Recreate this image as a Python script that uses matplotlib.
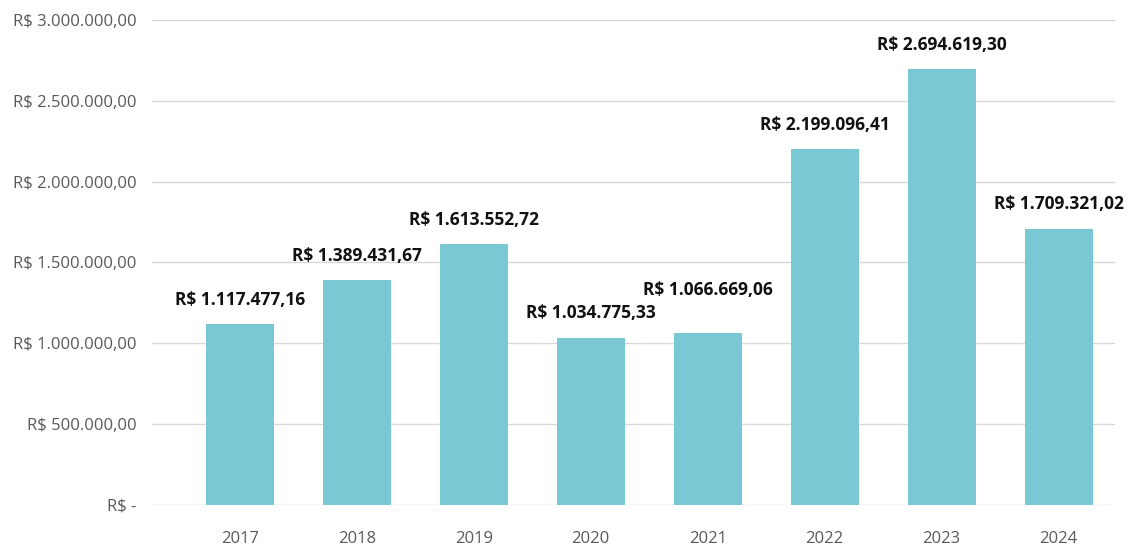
import matplotlib
matplotlib.use("Agg")
import matplotlib.pyplot as plt
from matplotlib.ticker import FuncFormatter

plt.rcParams['font.family'] = ['Open Sans', 'DejaVu Sans']

anos = ["2017", "2018", "2019", "2020", "2021", "2022", "2023", "2024"]
valores = [1117477.16, 1389431.67, 1613552.72, 1034775.33, 1066669.06,
           2199096.41, 2694619.30, 1709321.02]
y_ticks = [0, 500000, 1000000, 1500000, 2000000, 2500000, 3000000]


def brl(v, decimals=2):
    s = "{:,.{}f}".format(v, decimals)
    return s.replace(",", "X").replace(".", ",").replace("X", ".")


def fmt_tick(v, pos=None):
    if v == 0:
        return "R$ -"
    return "R$ " + brl(v)


fig = plt.figure(figsize=(11.3, 5.46), dpi=100)
ax = fig.add_axes([0.1345, 0.0751, 0.852, 0.8883])

x = range(len(anos))
bars = ax.bar(x, valores, width=0.58, color="#7AC8D3", zorder=2)

# 2021 label sits higher so it clears the 2020 one
label_pad = {4: 24}
for xi, v in zip(x, valores):
    ax.annotate("R$ " + brl(v), (xi, v), xytext=(0, label_pad.get(xi, 11)),
                textcoords="offset points", ha="center", va="bottom",
                fontsize=12.5, fontweight="bold", color="#111111")

ax.set_ylim(0, 3000000)
ax.set_xlim(-0.75, 7.48)
ax.set_yticks(y_ticks)
ax.yaxis.set_major_formatter(FuncFormatter(fmt_tick))
ax.set_xticks(list(x))
ax.set_xticklabels(anos)
ax.grid(axis="y", color="#D9D9D9", linewidth=1, zorder=0)
for s in ax.spines.values():
    s.set_visible(False)
ax.tick_params(axis="both", length=0, labelsize=12, colors="#595959")
ax.tick_params(axis="y", pad=11)
ax.tick_params(axis="x", pad=19)

fig.savefig("out.png", dpi=100)
